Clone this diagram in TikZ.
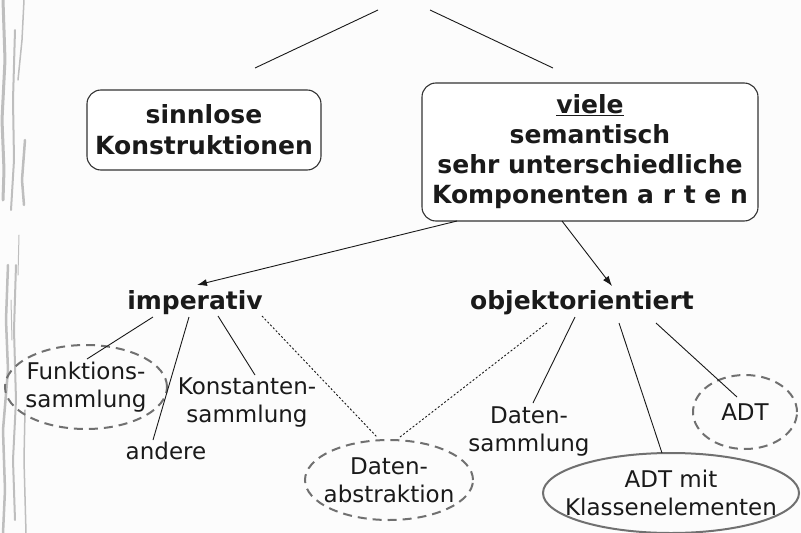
\documentclass[tikz,border=0pt]{standalone}
\usepackage{fontspec}
\setmainfont{DejaVu Sans}
\usetikzlibrary{shapes.geometric,arrows.meta,calc}
\definecolor{txt}{HTML}{1A1A1A}
\definecolor{bg}{HTML}{FCFCFC}
\definecolor{ell}{HTML}{707070}
\definecolor{tex}{HTML}{BEBEBE}
\tikzset{
  boxnode/.style={draw=black!80, line width=1.1pt, fill=white, rounded corners=14pt, align=center, text=txt, inner sep=2pt},
  boldtxt/.style={font=\bfseries\fontsize{25}{30}\selectfont, text=txt, inner sep=0pt, align=center},
  plaintxt/.style={font=\fontsize{23}{28}\selectfont, text=txt, inner sep=0pt, align=center},
  dashell/.style={ellipse, draw=ell, line width=2pt, dash pattern=on 9pt off 6pt, font=\fontsize{23}{28}\selectfont, text=txt, inner sep=-40pt, align=center},
  solidell/.style={ellipse, draw=ell, line width=2pt, font=\fontsize{23}{28}\selectfont, text=txt, inner sep=-40pt, align=center},
  conn/.style={draw=black!90, line width=0.9pt},
  dotconn/.style={draw=black!90, line width=0.9pt, dash pattern=on 2pt off 2pt},
  arr/.style={draw=black!90, line width=0.9pt, -{Latex[length=10pt,width=7pt]}},
  scribble/.style={draw=tex, line cap=round, line join=round}
}
\begin{document}
\begin{tikzpicture}[x=1pt,y=-1pt]
\useasboundingbox (0,0) rectangle (801,533);
\fill[bg] (0,0) rectangle (801,533);
% left decorative texture
\draw[scribble, line width=3pt] (3,0) -- (5,60) -- (2,120) -- (4,170) -- (3,200);
\draw[scribble, line width=2pt] (15,30) -- (13,100) -- (14,160) -- (11,210);
\draw[scribble, line width=1.5pt] (24,0) -- (22,40) -- (18,80);
\draw[scribble, line width=2.5pt] (25,140) -- (22,180) -- (24,205);
\draw[scribble, line width=1pt] (19,235) -- (18,275);
\draw[scribble, line width=2.5pt] (8,265) -- (6,320) -- (8,370) -- (3,430) -- (5,490) -- (3,533);
\draw[scribble, line width=2pt] (16,265) -- (14,330) -- (16,400) -- (13,460) -- (15,520);
\draw[scribble, line width=1.5pt] (25,410) -- (24,460) -- (26,533);
\draw[scribble, line width=1pt] (11,300) -- (12,340);
% nodes
\node[boxnode, minimum width=234pt, minimum height=80pt, font=\bfseries\fontsize{25}{31}\selectfont] (b1) at (204,130) {sinnlose\\Konstruktionen};
\node[boxnode, minimum width=336pt, minimum height=138pt, font=\bfseries\fontsize{25}{30}\selectfont] (b2) at (590,152) {\underline{viele}\\semantisch\\sehr unterschiedliche\\Komponenten a r t e n};
\coordinate (topL) at (378,10);
\coordinate (topR) at (430,10);
\node[boldtxt] (imp) at (195,303) {imperativ};
\node[boldtxt] (obj) at (582,303) {objektorientiert};
\node[dashell, minimum width=162pt, minimum height=84pt] (fs) at (86,387) {Funktions-\\sammlung};
\node[plaintxt] (ks) at (247,403) {Konstanten-\\sammlung};
\node[plaintxt] (and) at (166,451) {andere};
\node[dashell, minimum width=168pt, minimum height=80pt] (da) at (389,480) {Daten-\\abstraktion};
\node[plaintxt] (ds) at (529,432) {Daten-\\sammlung};
\node[solidell, minimum width=256pt, minimum height=80pt] (adtk) at (671,493) {ADT mit\\Klassenelementen};
\node[dashell, minimum width=104pt, minimum height=74pt] (adt) at (745,412) {ADT};
% connectors
\draw[conn] (topL) -- ($(b1)+(51,-62)$);
\draw[conn] (topR) -- ($(b2)+(-37,-84)$);
\draw[arr] ($(b2)+(-133,69)$) -- ($(imp)+(2,-18)$);
\draw[arr] ($(b2)+(-28,69)$) -- ($(obj)+(30,-17)$);
\draw[conn] ($(imp)+(-42,14)$) -- ($(fs)+(1,-28)$);
\draw[conn] ($(imp)+(-6,14)$) -- ($(and)+(-13,-11)$);
\draw[conn] ($(imp)+(23,13)$) -- ($(ks)+(8,-28)$);
\draw[dotconn] ($(imp)+(67,13)$) -- ($(da)+(-12,-43)$);
\draw[dotconn] ($(obj)+(-35,20)$) -- ($(da)+(11,-43)$);
\draw[conn] ($(obj)+(-7,14)$) -- ($(ds)+(4,-29)$);
\draw[conn] ($(obj)+(37,20)$) -- ($(adtk)+(-9,-40)$);
\draw[conn] ($(obj)+(74,20)$) -- ($(adt)+(-8,-15)$);
\end{tikzpicture}
\end{document}
